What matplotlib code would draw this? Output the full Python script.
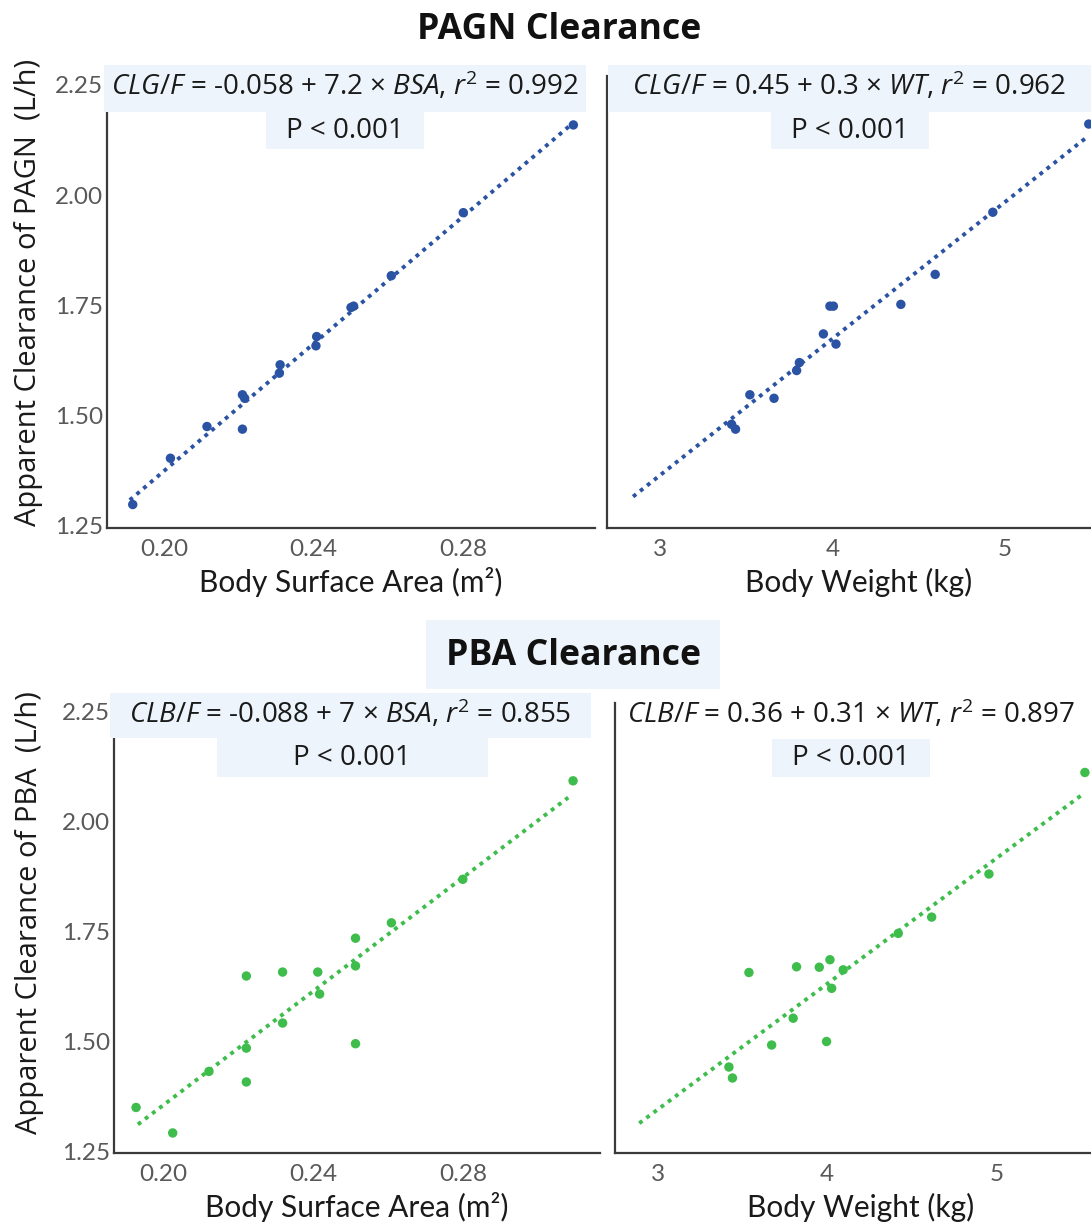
import matplotlib
matplotlib.use("Agg")
import matplotlib.pyplot as plt
from matplotlib.patches import Rectangle
import numpy as np

plt.rcParams['font.family'] = ['Open Sans', 'DejaVu Sans']
plt.rcParams['mathtext.fontset'] = 'custom'
plt.rcParams['mathtext.rm'] = 'Open Sans'
plt.rcParams['mathtext.it'] = 'Open Sans:italic'

# ---------------- data ----------------
# PAGN clearance vs BSA (top-left)
pagn_bsa_x = [0.1915, 0.2016, 0.2114, 0.2209, 0.2215, 0.2209, 0.2310, 0.2308,
              0.2408, 0.2406, 0.2507, 0.2500, 0.2608, 0.2801, 0.3096]
pagn_bsa_y = [1.298, 1.403, 1.475, 1.547, 1.539, 1.469, 1.615, 1.596,
              1.679, 1.658, 1.748, 1.745, 1.817, 1.960, 2.159]
# PAGN clearance vs WT (top-right)
pagn_wt_x = [5.486, 4.930, 4.596, 4.397, 3.986, 4.006, 3.948, 4.021,
             3.809, 3.793, 3.522, 3.662, 3.416, 3.439]
pagn_wt_y = [2.161, 1.961, 1.820, 1.752, 1.748, 1.748, 1.685, 1.662,
             1.620, 1.602, 1.547, 1.539, 1.480, 1.469]
# PBA clearance vs BSA (bottom-left)
pba_bsa_x = [0.3095, 0.2800, 0.2609, 0.2513, 0.2513, 0.2513, 0.2412, 0.2417,
             0.2318, 0.2318, 0.2221, 0.2221, 0.2221, 0.2121, 0.1926, 0.2024]
pba_bsa_y = [2.093, 1.869, 1.770, 1.735, 1.672, 1.495, 1.658, 1.608,
             1.658, 1.542, 1.649, 1.485, 1.408, 1.432, 1.350, 1.292]
# PBA clearance vs WT (bottom-right)
pba_wt_x = [5.521, 4.955, 4.617, 4.420, 4.017, 3.820, 3.954, 4.095,
            3.539, 4.027, 3.800, 3.673, 3.997, 3.421, 3.442]
pba_wt_y = [2.112, 1.881, 1.783, 1.746, 1.686, 1.670, 1.669, 1.663,
            1.657, 1.621, 1.553, 1.492, 1.500, 1.442, 1.417]

# fitted lines as drawn (intercept, slope, x-range)
fit_pagn_bsa = (-0.065, 7.2, (0.1907, 0.3096))
fit_pagn_wt = (0.434, 0.31, (2.845, 5.486))
fit_pba_bsa = (0.064, 6.46, (0.1931, 0.3082))
fit_pba_wt = (0.487, 0.286, (2.892, 5.501))

eq_texts = [r'$\mathit{CLG/F}$ = -0.058 + 7.2 × $\mathit{BSA}$, $\mathit{r}^{2}$ = 0.992',
            r'$\mathit{CLG/F}$ = 0.45 + 0.3 × $\mathit{WT}$, $\mathit{r}^{2}$ = 0.962',
            r'$\mathit{CLB/F}$ = -0.088 + 7 × $\mathit{BSA}$, $\mathit{r}^{2}$ = 0.855',
            r'$\mathit{CLB/F}$ = 0.36 + 0.31 × $\mathit{WT}$, $\mathit{r}^{2}$ = 0.897']
p_text = 'P < 0.001'
titles = ['PAGN Clearance', 'PBA Clearance']
ylabels = ['Apparent Clearance of PAGN  (L/h)', 'Apparent Clearance of PBA  (L/h)']
xlabels = ['Body Surface Area (m²)', 'Body Weight (kg)']
yticks = [1.25, 1.50, 1.75, 2.00, 2.25]
bsa_ticks = [0.20, 0.24, 0.28]
wt_ticks = [3, 4, 5]

BLUE = '#2B53A3'
GREEN = '#3EBD4C'
BOX = '#EDF4FB'
SPINE = '#3a3a3a'
TICKC = '#595959'
TXT = '#1a1a1a'

W, H = 1091, 1224
fig = plt.figure(figsize=(W / 100, H / 100), dpi=100)


def px_rect(x0, y0, x1, y1):
    """pixel box (top-left origin) -> figure fraction rect"""
    return [x0 / W, 1 - y1 / H, (x1 - x0) / W, (y1 - y0) / H]


def make_ax(rect, xlim, ylim, xticks, xfmt):
    ax = fig.add_axes(rect)
    ax.set_xlim(*xlim)
    ax.set_ylim(*ylim)
    for s in ['top', 'right']:
        ax.spines[s].set_visible(False)
    for s in ['left', 'bottom']:
        ax.spines[s].set_color(SPINE)
        ax.spines[s].set_linewidth(1.6)
    ax.set_xticks(xticks)
    ax.set_xticklabels([xfmt.format(v) for v in xticks])
    ax.set_yticks(yticks)
    ax.set_yticklabels(['{:.2f}'.format(v) for v in yticks])
    ax.tick_params(axis='both', length=0, colors=TICKC, labelsize=17.5)
    ax.tick_params(axis='x', pad=8)
    ax.tick_params(axis='y', pad=3)
    for lab in ax.get_xticklabels() + ax.get_yticklabels():
        lab.set_family(['Lato', 'DejaVu Sans'])
    return ax


def draw(ax, x, y, fit, color):
    a, b, (x0, x1) = fit
    xs = np.array([x0, x1])
    ax.plot(xs, a + b * xs, color=color, lw=2.8, linestyle=(0, (1.0, 1.3)),
            dash_capstyle='butt', zorder=2)
    ax.scatter(x, y, s=46, color=color, edgecolors='none', zorder=3)


# axes
ax_tl = make_ax(px_rect(107, 76, 595, 528), (0.1846, 0.3154), (1.2448, 2.27), bsa_ticks, '{:.2f}')
ax_tr = make_ax(px_rect(607, 76, 1091, 528), (2.694, 5.499), (1.2448, 2.27), wt_ticks, '{:d}')
ax_bl = make_ax(px_rect(114, 703, 600, 1153), (0.1867, 0.3167), (1.2464, 2.27), bsa_ticks, '{:.2f}')
ax_br = make_ax(px_rect(615, 703, 1091, 1153), (2.749, 5.557), (1.2464, 2.27), wt_ticks, '{:d}')
ax_tr.set_yticklabels([])
ax_br.set_yticklabels([])

draw(ax_tl, pagn_bsa_x, pagn_bsa_y, fit_pagn_bsa, BLUE)
draw(ax_tr, pagn_wt_x, pagn_wt_y, fit_pagn_wt, BLUE)
draw(ax_bl, pba_bsa_x, pba_bsa_y, fit_pba_bsa, GREEN)
draw(ax_br, pba_wt_x, pba_wt_y, fit_pba_wt, GREEN)

# labels
for ax, xl, xc, yc in [(ax_tl, xlabels[0], 0.5, -0.12), (ax_tr, xlabels[1], 0.52, -0.12),
                       (ax_bl, xlabels[0], 0.5, -0.12), (ax_br, xlabels[1], 0.515, -0.12)]:
    ax.set_xlabel(xl, fontsize=21.5, color=TXT, family=['Lato', 'DejaVu Sans'], va='center')
    ax.xaxis.set_label_coords(xc, yc)
ax_tl.set_ylabel(ylabels[0], fontsize=21, color=TXT, va='center')
ax_tl.yaxis.set_label_coords(-0.16, 0.522)
ax_bl.set_ylabel(ylabels[1], fontsize=21, color=TXT, va='center')
ax_bl.yaxis.set_label_coords(-0.174, 0.535)


def box(x0, y0, x1, y1):
    fig.add_artist(Rectangle((x0 / W, 1 - y1 / H), (x1 - x0) / W, (y1 - y0) / H,
                             transform=fig.transFigure, facecolor=BOX,
                             edgecolor='none', zorder=5))


def ftext(x, y, s, **kw):
    fig.text(x / W, 1 - y / H, s, ha='center', va='center', zorder=6, **kw)


# titles
ftext(559, 30, titles[0], fontsize=25.7, fontweight='bold', color='#111111')
box(426, 620, 720, 689)
ftext(573, 656, titles[1], fontsize=25.7, fontweight='bold', color='#111111')

EQ = 20
# equation / p boxes, top
box(104, 65, 586, 112)
box(266, 112, 424, 149)
box(608, 65, 1091, 112)
box(771, 112, 929, 149)
ftext(345, 86, eq_texts[0], fontsize=EQ, color=TXT)
ftext(345, 131, p_text, fontsize=EQ, color=TXT)
ftext(849, 86, eq_texts[1], fontsize=EQ, color=TXT)
ftext(850, 131, p_text, fontsize=EQ, color=TXT)

# bottom
box(110, 693, 591, 738)
box(217, 738, 488, 777)
box(772, 739, 930, 777)
ftext(350, 714, eq_texts[2], fontsize=EQ, color=TXT)
ftext(352, 758, p_text, fontsize=EQ, color=TXT)
ftext(851, 714, eq_texts[3], fontsize=EQ, color=TXT)
ftext(851, 758, p_text, fontsize=EQ, color=TXT)

fig.savefig('out.png', dpi=100, facecolor='white')
